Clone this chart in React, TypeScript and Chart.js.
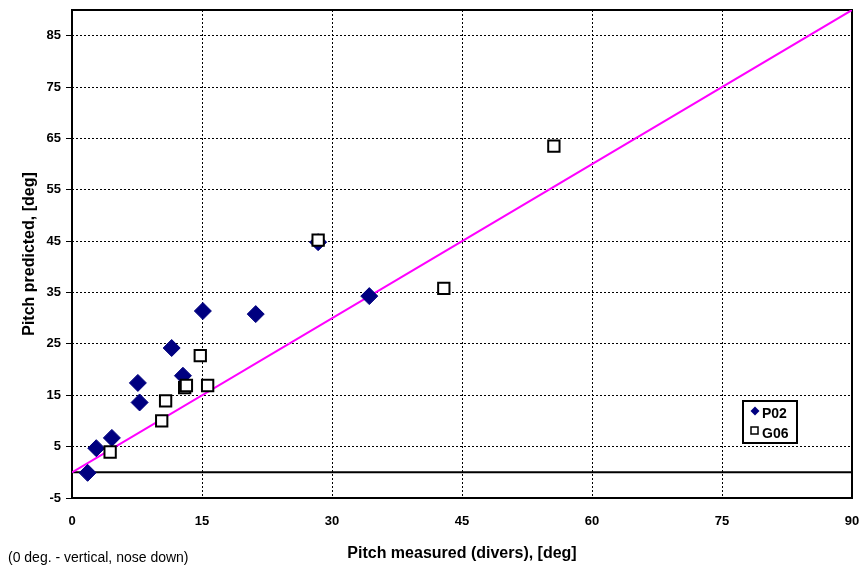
import React, { useEffect, useRef } from "react";
import { Chart, registerables } from "chart.js";
Chart.register(...registerables);

// P02 series (filled diamonds)
const p02X = [1.8, 2.8, 4.6, 7.6, 7.8, 11.5, 12.8, 15.1, 21.2, 28.4, 34.3];
const p02Y = [-0.1, 4.7, 6.7, 17.4, 13.6, 24.2, 18.8, 31.4, 30.8, 44.8, 34.3];

// G06 series (open squares)
const g06X = [4.4, 10.35, 10.8, 13.0, 13.2, 14.8, 15.65, 28.4, 42.9, 55.6];
const g06Y = [3.95, 10.0, 13.9, 16.5, 16.9, 22.7, 16.9, 45.2, 35.8, 63.5];

// 1:1 reference line
const diagX = [0, 90];
const diagY = [0, 90];

const yTickValues = [-5, 5, 15, 25, 35, 45, 55, 65, 75, 85];
const xTickStep = 15;
const xMin = 0;
const xMax = 90;
const yMin = -5;
const yMax = 90;

const seriesNames = ["P02", "G06"];
const xTitle = "Pitch measured (divers), [deg]";
const yTitle = "Pitch predicted, [deg]";
const footnote = "(0 deg. - vertical, nose down)";

const FONT = "'Liberation Sans', Arial, Helvetica, sans-serif";
const NAVY = "#000080";

const toPts = (xs: number[], ys: number[]) => xs.map((x, i) => ({ x, y: ys[i] }));

const decorPlugin = {
  id: "decor",
  beforeDatasetsDraw(chart: any) {
    const { ctx, chartArea, scales } = chart;
    ctx.save();
    const y0 = scales.y.getPixelForValue(0);
    ctx.strokeStyle = "#000";
    ctx.lineWidth = 2;
    ctx.beginPath();
    ctx.moveTo(chartArea.left, y0);
    ctx.lineTo(chartArea.right, y0);
    ctx.stroke();
    ctx.strokeRect(chartArea.left, chartArea.top, chartArea.right - chartArea.left, chartArea.bottom - chartArea.top);
    ctx.restore();
  },
  afterDraw(chart: any) {
    const { ctx } = chart;
    ctx.save();
    ctx.fillStyle = "#000";
    ctx.font = `14px ${FONT}`;
    ctx.textBaseline = "middle";
    ctx.textAlign = "left";
    ctx.fillText(footnote, 8, 558);
    const bx = 743, by = 401, bw = 54, bh = 42;
    ctx.fillStyle = "#fff";
    ctx.fillRect(bx, by, bw, bh);
    ctx.strokeStyle = "#000";
    ctx.lineWidth = 2;
    ctx.strokeRect(bx, by, bw, bh);
    const dx = 755, dy = 411;
    ctx.fillStyle = NAVY;
    ctx.beginPath();
    ctx.moveTo(dx, dy - 4.5);
    ctx.lineTo(dx + 4.5, dy);
    ctx.lineTo(dx, dy + 4.5);
    ctx.lineTo(dx - 4.5, dy);
    ctx.closePath();
    ctx.fill();
    ctx.fillStyle = "#fff";
    ctx.strokeStyle = "#000";
    ctx.lineWidth = 1.5;
    ctx.fillRect(751, 427, 7, 7);
    ctx.strokeRect(751, 427, 7, 7);
    ctx.fillStyle = "#000";
    ctx.font = `bold 14px ${FONT}`;
    ctx.textBaseline = "middle";
    ctx.fillText(seriesNames[0], 762, 414);
    ctx.fillText(seriesNames[1], 762, 434);
    ctx.restore();
  },
};

export default function App() {
  const ref = useRef<HTMLCanvasElement>(null);
  useEffect(() => {
    document.body.style.margin = "0";
    const canvas = ref.current!;
    const chart = new Chart(canvas, {
      type: "scatter",
      data: {
        datasets: [
          {
            label: seriesNames[1],
            data: toPts(g06X, g06Y),
            pointStyle: "rect",
            pointRadius: 8,
            pointHoverRadius: 8,
            backgroundColor: "#fff",
            borderColor: "#000",
            borderWidth: 2,
            order: 0,
          },
          {
            label: seriesNames[0],
            data: toPts(p02X, p02Y),
            pointStyle: "rectRot",
            pointRadius: 8.5,
            pointHoverRadius: 8.5,
            backgroundColor: NAVY,
            borderColor: NAVY,
            borderWidth: 1,
            order: 1,
          },
          {
            label: "1:1",
            data: toPts(diagX, diagY),
            showLine: true,
            pointRadius: 0,
            borderColor: "#ff00ff",
            borderWidth: 2,
            order: 2,
          },
        ],
      },
      options: {
        responsive: false,
        animation: false,
        devicePixelRatio: 1,
        layout: { padding: { top: 10, right: 12, bottom: 0, left: 0 }, autoPadding: false },
        plugins: {
          legend: { display: false },
          tooltip: { enabled: false },
          title: { display: false },
        },
        font: { family: FONT },
        scales: {
          x: {
            type: "linear",
            min: xMin,
            max: xMax,
            ticks: {
              stepSize: xTickStep,
              color: "#000",
              font: { family: FONT, size: 13, weight: "bold" },
              padding: 16,
            },
            grid: { color: "#000", lineWidth: 1, drawTicks: false },
            border: { display: false, dash: [2, 2] },
            title: {
              display: true,
              text: xTitle,
              color: "#000",
              font: { family: FONT, size: 16, weight: "bold" },
              padding: { top: 0, bottom: 8 },
            },
            afterFit(scale: any) {
              scale.height = 73;
              scale.paddingLeft = 0;
              scale.paddingRight = 0;
            },
          },
          y: {
            type: "linear",
            min: yMin,
            max: yMax,
            afterBuildTicks(scale: any) {
              scale.ticks = yTickValues.map((v) => ({ value: v }));
            },
            ticks: {
              color: "#000",
              font: { family: FONT, size: 13, weight: "bold" },
              padding: 5,
            },
            grid: { color: "#000", lineWidth: 1, drawTicks: true, tickLength: 6, tickColor: "#000", tickBorderDash: [] },
            border: { display: false, dash: [2, 2] },
            title: {
              display: true,
              text: yTitle,
              color: "#000",
              font: { family: FONT, size: 16, weight: "bold" },
              padding: { top: 20, bottom: 0 },
            },
            afterFit(scale: any) {
              scale.width = 72;
              scale.paddingTop = 0;
              scale.paddingBottom = 0;
            },
          },
        },
      },
      plugins: [decorPlugin],
    } as any);
    return () => chart.destroy();
  }, []);
  return (
    <div style={{ position: "absolute", left: 0, top: 0, width: 864, height: 571 }}>
      <canvas ref={ref} width={864} height={571} style={{ width: 864, height: 571, display: "block" }} />
    </div>
  );
}
